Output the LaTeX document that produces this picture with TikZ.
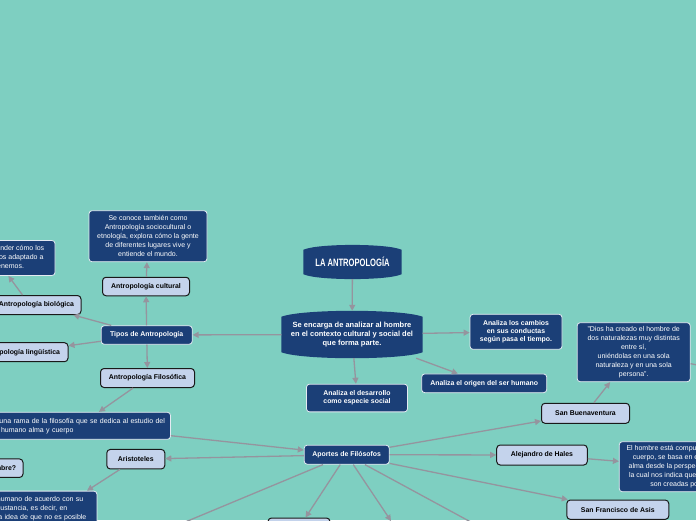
\documentclass[tikz,border=0pt]{standalone}
\usepackage{fontspec}
\setmainfont{Liberation Sans}
\usepackage{graphicx}
\usetikzlibrary{arrows.meta,calc}
\pgfdeclarelayer{background}
\pgfsetlayers{background,main}
\definecolor{bgteal}{HTML}{7ECFC1}
\definecolor{navyfill}{HTML}{1B3F77}
\definecolor{lbfill}{HTML}{C4D3EC}
\definecolor{conncol}{HTML}{95949E}
\definecolor{darkline}{HTML}{E4EAF2}
\tikzset{
  darkbox/.style={draw=darkline, line width=0.8pt, fill=navyfill, rounded corners=3pt, text=white, align=center, inner sep=1.5pt, font=\fontsize{6.9}{8}\selectfont\bfseries},
  darkdesc/.style={darkbox, font=\fontsize{7}{9.1}\selectfont},
  lightbox/.style={draw=black!90, line width=1pt, fill=lbfill, rounded corners=3.5pt, text=black, align=center, inner sep=1.5pt, font=\fontsize{6.9}{8}\selectfont\bfseries},
  barreltext/.style={text=white, align=center, inner sep=0pt},
  conn/.style={draw=conncol, line width=1.3pt, -{Triangle[length=6pt,width=6pt]}},
  plainconn/.style={draw=conncol, line width=1.3pt},
}
\begin{document}
\begin{tikzpicture}[x=1pt,y=-1pt]
\begin{pgfonlayer}{background}
\fill[bgteal] (0,0) rectangle (696,520);
\end{pgfonlayer}
\useasboundingbox (0,0) rectangle (696,520);

\node[barreltext, minimum width=98pt, minimum height=34pt] (title) at (352.5,262) {\scalebox{0.71}[1]{\fontsize{10.7}{12}\selectfont\bfseries LA ANTROPOLOGÍA}};
\node[barreltext, minimum width=141pt, minimum height=47pt, font=\fontsize{7.5}{8.6}\selectfont\bfseries] (main) at (352,334.5) {Se encarga de analizar al hombre\\en el contexto cultural y social del\\que forma parte.};

\node[darkbox, minimum width=91pt, minimum height=18.5pt] (tipos) at (146.7,335) {Tipos de Antropología};
\node[lightbox, minimum width=87pt, minimum height=18.5pt] (cultural) at (146,286.5) {Antropología cultural};
\node[darkdesc, minimum width=118pt, minimum height=51pt] (culturaldesc) at (148,236.2) {Se conoce también como\\Antropología sociocultural o\\etnología, explora cómo la gente\\de diferentes lugares vive y\\entiende el mundo.};
\node[lightbox, minimum width=89pt, minimum height=19pt] (bio) at (36.5,305) {Antropología biológica};
\node[darkdesc, minimum width=125pt, minimum height=35pt] (biodesc) at (-7.5,258) {Su objetivo es entender cómo los\\humanos nos hemos adaptado a\\lo que hoy tenemos.};
\node[lightbox, minimum width=95pt, minimum height=19pt] (ling) at (20.5,352.2) {Antropología lingüística};
\node[lightbox, minimum width=94pt, minimum height=19pt] (filo) at (147.5,378) {Antropología Filosófica};
\node[darkdesc, align=left, text width=180pt, minimum width=183pt, minimum height=27pt] (filodesc) at (79,425.8) {Es una rama de la filosofía que se dedica al estudio del\\ser humano alma y cuerpo};

\node[darkbox, minimum width=85pt, minimum height=19pt] (aportes) at (346.7,454.7) {Aportes de Filósofos};
\node[lightbox, minimum width=58pt, minimum height=19.5pt] (aristoteles) at (135.8,459.2) {Aristoteles};
\node[lightbox, minimum width=80pt, minimum height=18.5pt] (hombre) at (-17,468.2) {¿Qué es el hombre?};
\node[darkdesc, anchor=north west, align=left, text width=97pt, inner xsep=3pt, inner ysep=5pt] (aristdesc) at (-6.5,490.7) {humano de acuerdo con su\\sustancia, es decir, en\\la idea de que no es posible\\separar el alma del\\cuerpo.};

\node[darkbox, minimum width=101pt, minimum height=27.7pt, font=\fontsize{6.9}{8.3}\selectfont\bfseries] (desarrollo) at (357,398) {Analiza el desarrollo\\como especie social};
\node[darkbox, minimum width=125pt, minimum height=18.7pt] (origen) at (484.2,383.3) {Analiza el origen del ser humano};
\node[darkbox, minimum width=92pt, minimum height=35pt, font=\fontsize{6.9}{7.8}\selectfont\bfseries] (cambios) at (516,331.8) {Analiza los cambios\\en sus conductas\\según pasa el tiempo.};
\node[darkdesc, minimum width=113pt, minimum height=59pt, font=\fontsize{7}{8.9}\selectfont] (quote) at (633.7,352.2) {"Dios ha creado el hombre de\\dos naturalezas muy distintas\\entre sí,\\uniéndolas en una sola\\naturaleza y en una sola\\persona".};

\node[lightbox, minimum width=88pt, minimum height=20pt] (buenaventura) at (585.5,413.3) {San Buenaventura};
\node[lightbox, minimum width=90.6pt, minimum height=20pt] (hales) at (542,455) {Alejandro de Hales};
\node[darkdesc, minimum width=130pt, minimum height=50pt] (halesdesc) at (684.3,466.7) {El hombre está compuesto de alma y\\cuerpo, se basa en el estudio del\\alma desde la perspectiva cristiana,\\la cual nos indica que ambas cosas\\son creadas por Dios.};
\node[lightbox, minimum width=102pt, minimum height=19.3pt] (asis) at (617.8,509.7) {San Francisco de Asis};
\node[lightbox, minimum width=62pt, minimum height=19pt] (bottombox) at (299,527.5) {};

\coordinate (offA) at (142,540);
\coordinate (offB) at (391,521);
\coordinate (offC) at (504,540);
\coordinate (offD) at (712,368);

\begin{pgfonlayer}{background}
\fill[navyfill] ($(title.north west)+(0,5)$) .. controls ($(title.north west)+(14,-1.5)$) and ($(title.north east)+(-14,-1.5)$) .. ($(title.north east)+(0,5)$) -- ($(title.south east)+(0,-5)$) .. controls ($(title.south east)+(-14,1.5)$) and ($(title.south west)+(14,1.5)$) .. ($(title.south west)+(0,-5)$) -- cycle;
\fill[navyfill] ($(main.north west)+(0,6)$) .. controls ($(main.north west)+(20,-2)$) and ($(main.north east)+(-20,-2)$) .. ($(main.north east)+(0,6)$) -- ($(main.south east)+(0,-6)$) .. controls ($(main.south east)+(-20,2)$) and ($(main.south west)+(20,2)$) .. ($(main.south west)+(0,-6)$) -- cycle;
\end{pgfonlayer}

\draw[conn] (title) -- (main);
\draw[conn] (main) -- (tipos);
\draw[conn] (main) -- (desarrollo);
\draw[conn] (main) -- (origen);
\draw[conn] (main) -- (cambios);
\draw[conn] (tipos) -- (cultural);
\draw[conn] (cultural) -- (culturaldesc);
\draw[conn] (tipos) -- (bio);
\draw[conn] ($(bio.north west)+(31,0)$) -- ($(biodesc.south east)+(-47,0)$);
\draw[conn] (tipos) -- (ling);
\draw[conn] (tipos) -- (filo);
\draw[conn] (filo) -- (filodesc);
\draw[conn] (filodesc) -- (aportes);
\draw[conn] (aportes) -- (aristoteles);
\draw[conn] (aristoteles) -- (aristdesc);
\draw[conn] (aportes) -- (buenaventura);
\draw[conn] (buenaventura) -- (quote);
\draw[conn] (aportes) -- (hales);
\draw[conn] (hales) -- (halesdesc);
\draw[conn] (aportes) -- (asis);
\draw[conn] (aportes) -- (bottombox);
\draw[conn] (aportes) -- (offB);
\draw[conn] (aportes) -- (offC);
\draw[conn] (aportes) -- (offA);
\draw[plainconn] (quote) -- (offD);
\end{tikzpicture}
\end{document}
